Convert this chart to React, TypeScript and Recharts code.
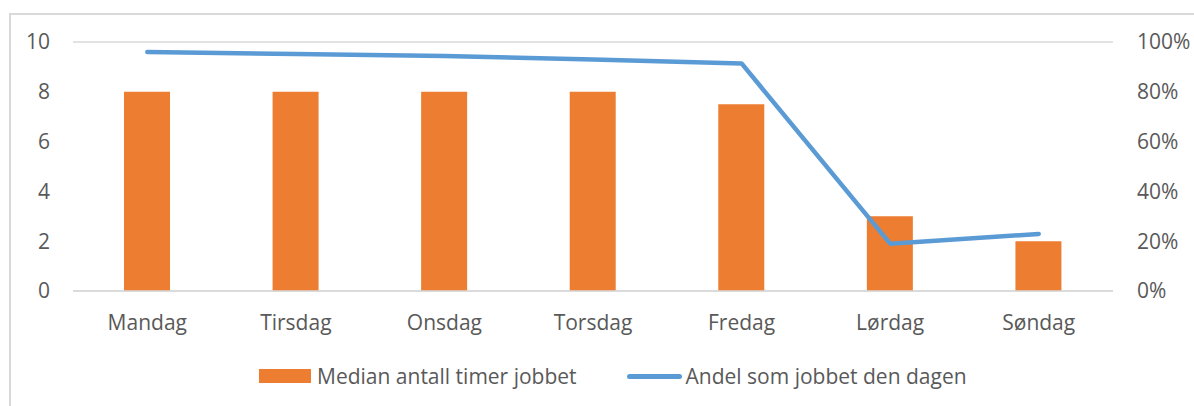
import React from 'react';
import { ComposedChart, Bar, Line, XAxis, YAxis, CartesianGrid } from 'recharts';

// Weekdays and the two series
const days = ['Mandag', 'Tirsdag', 'Onsdag', 'Torsdag', 'Fredag', 'Lørdag', 'Søndag'];
const medianHours = [8, 8, 8, 8, 7.5, 3, 2];
const shareWorked = [96, 95.2, 94.4, 93, 91.4, 19, 22.9];
const leftTicks = [0, 2, 4, 6, 8, 10];
const rightTicks = [0, 20, 40, 60, 80, 100];

const BAR_NAME = 'Median antall timer jobbet';
const LINE_NAME = 'Andel som jobbet den dagen';
const ORANGE = '#ED7D31';
const BLUE = '#5B9BD5';
const TEXT = '#595959';
const GRID = '#d9d9d9';
const FONT = '"Open Sans", sans-serif';

const data = days.map((day, i) => ({
    day,
    hours: medianHours[i],
    share: shareWorked[i],
}));

export default function App() {
    const tick = { fill: TEXT, fontSize: 21, fontFamily: FONT };

    return (
        <div style={{ position: 'absolute', left: 0, top: 0, width: 1194, height: 406, background: '#fff', overflow: 'hidden' }}>
            {/* outer chart frame */}
            <div
                style={{
                    position: 'absolute',
                    left: 9,
                    top: 13,
                    width: 1200,
                    height: 400,
                    borderLeft: `2px solid ${GRID}`,
                    borderTop: `2px solid ${GRID}`,
                }}
            />
            <div style={{ position: 'absolute', left: 0, top: 0 }}>
                <ComposedChart width={1194} height={406} data={data} margin={{ top: 42, right: 0, bottom: 0, left: 0 }}>
                    <CartesianGrid vertical={false} stroke={GRID} strokeWidth={1.5} />
                    <XAxis
                        dataKey="day"
                        height={115}
                        tick={tick}
                        tickLine={false}
                        tickSize={0}
                        tickMargin={24}
                        axisLine={{ stroke: GRID, strokeWidth: 1.5 }}
                    />
                    <YAxis
                        yAxisId="left"
                        width={73}
                        domain={[0, 10]}
                        ticks={leftTicks}
                        tick={tick}
                        tickLine={false}
                        tickSize={0}
                        tickMargin={23}
                        axisLine={false}
                    />
                    <YAxis
                        yAxisId="right"
                        orientation="right"
                        width={81}
                        domain={[0, 100]}
                        ticks={rightTicks}
                        tickFormatter={(v) => `${v}%`}
                        tick={{ ...tick, textAnchor: 'start' }}
                        tickLine={false}
                        tickSize={0}
                        tickMargin={24}
                        axisLine={false}
                    />
                    <Bar yAxisId="left" dataKey="hours" name={BAR_NAME} fill={ORANGE} barSize={46} isAnimationActive={false} />
                    <Line
                        yAxisId="right"
                        dataKey="share"
                        name={LINE_NAME}
                        type="linear"
                        stroke={BLUE}
                        strokeWidth={4.5}
                        strokeLinecap="round"
                        strokeLinejoin="round"
                        dot={false}
                        activeDot={false}
                        isAnimationActive={false}
                    />
                </ComposedChart>
            </div>
            {/* legend */}
            <div style={{ position: 'absolute', left: 259, top: 361, height: 30, display: 'flex', alignItems: 'center', fontFamily: FONT, fontSize: 21, color: TEXT, whiteSpace: 'nowrap' }}>
                <span style={{ display: 'inline-block', width: 52, height: 14, background: ORANGE, marginRight: 6 }} />
                <span>{BAR_NAME}</span>
                <span style={{ display: 'inline-block', width: 55, height: 5, borderRadius: 3, background: BLUE, marginLeft: 50, marginRight: 4 }} />
                <span>{LINE_NAME}</span>
            </div>
        </div>
    );
}
